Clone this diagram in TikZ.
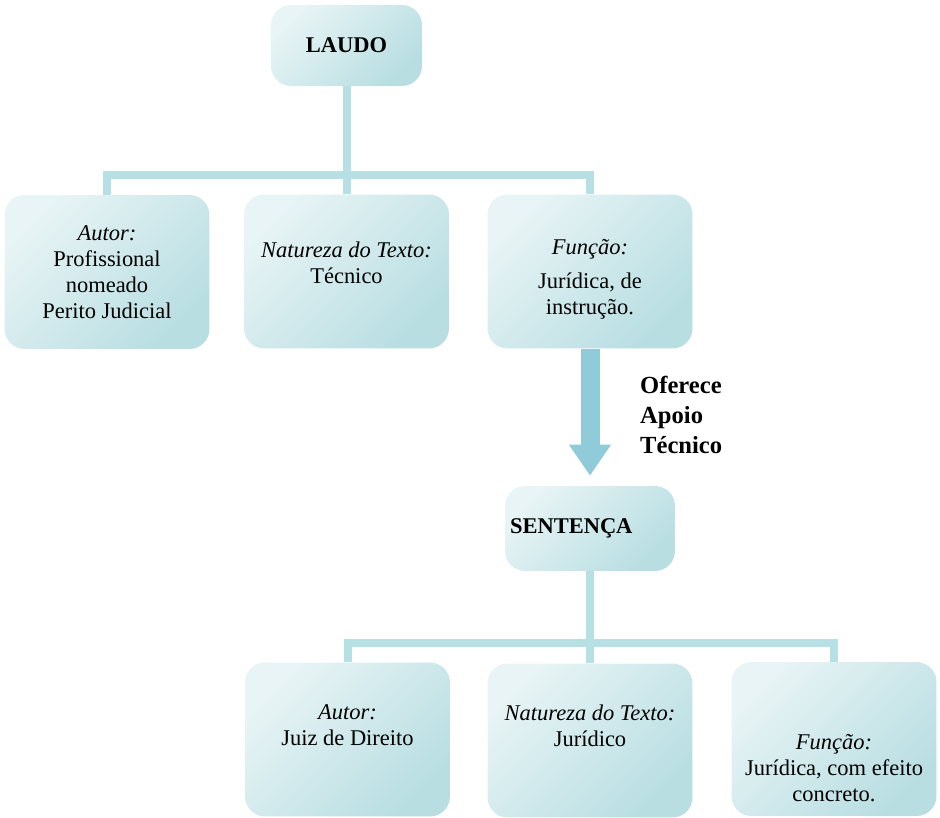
\documentclass[tikz,border=0pt]{standalone}
\usepackage{fontspec}
\setmainfont{Liberation Serif}
\usetikzlibrary{arrows.meta, positioning}
\definecolor{boxlight}{RGB}{232,244,245}
\definecolor{boxdark}{RGB}{184,222,226}
\definecolor{linkcol}{RGB}{183,224,228}
\definecolor{arrowcol}{RGB}{143,203,216}
% extra depth below / height above a text block
\newcommand{\lowpad}[1]{\rule[-#1]{0pt}{#1}}
\newcommand{\toppad}[1]{\rule{0pt}{#1}}

\begin{document}
\begin{tikzpicture}[x=0.02cm, y=-0.02cm,
    box/.style={rectangle, rounded corners=0.4cm, top color=boxlight, bottom color=boxdark, shading angle=45,
        minimum width=4.1cm, minimum height=3.08cm, align=center, inner sep=2pt, font=\fontsize{12.8}{14.8}\selectfont},
    head/.style={box, minimum width=3.02cm, minimum height=1.62cm, font=\fontsize{12.8}{14.8}\selectfont\bfseries},
    link/.style={draw=linkcol, line width=0.16cm},
    bigarrow/.style={draw=arrowcol, line width=0.38cm, -{Triangle[length=0.62cm, width=0.8cm]}, shorten >=0.2cm}
]
\useasboundingbox (0,0) rectangle (940,818);

% Laudo and its three boxes
\node[head] (laudo) at (346.5,45.5) {LAUDO};
\node[box] (autor1) at (107,272) {\textit{Autor:}\\Profissional\\nomeado\\Perito Judicial};
\node[box] (natureza1) at (346.5,271.5) {\textit{Natureza do Texto:}\\Técnico\lowpad{9.6pt}};
\node[box] (funcao1) at (590,271.5) {\toppad{17.5pt}\textit{Função:}\\[4.5pt]Jurídica, de\\instrução.};

% Sentenca and its three boxes
\node[head, minimum width=3.4cm, minimum height=1.7cm, text width=3.2cm, align=left] (sentenca) at (590,528.5) {SENTENÇA};
\node[box] (autor2) at (347.5,739.5) {\textit{Autor:}\\Juiz de Direito\lowpad{16.8pt}};
\node[box] (natureza2) at (590,740.5) {\textit{Natureza do Texto:}\\Jurídico\lowpad{16.8pt}};
\node[box] (funcao2) at (834,739) {\toppad{42pt}\textit{Função:}\\Jurídica, com efeito\\concreto.};

\coordinate (split1) at (346.5,175);
\coordinate (split2) at (590,643);

% Tree lines
\draw[link] (laudo) -- (natureza1);
\draw[link] (autor1.north) |- (split1) -| (funcao1.north);
\draw[link] (sentenca) -- (natureza2);
\draw[link] (autor2.north) |- (split2) -| (funcao2.north);

% Big arrow between the two parts
\draw[bigarrow] (funcao1) -- (sentenca);
\node[font=\fontsize{14}{17}\selectfont\bfseries, align=left, anchor=west] (apoio) at (634,415) {Oferece\\Apoio\\Técnico};

\end{tikzpicture}
\end{document}
